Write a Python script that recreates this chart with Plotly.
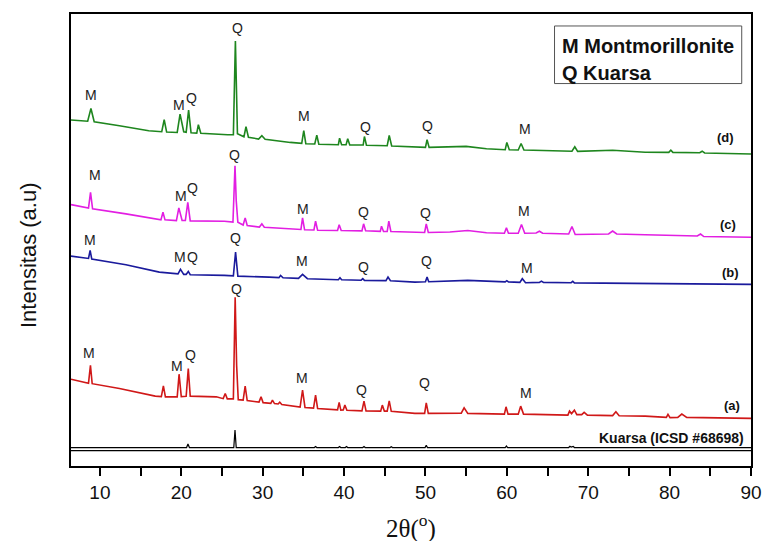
import plotly.graph_objects as go

# ---------------- data (2θ in degrees, intensity in a.u. incl. stacking offset) ----------------
d_x = [6.45, 8.5, 8.9, 9.3, 12.4, 16.0, 17.6, 17.9, 18.2, 19.5, 19.85, 20.3, 20.6, 20.9, 21.2, 21.9, 22.1, 22.4,
       25.7, 26.4, 26.65, 26.9, 27.7, 27.95, 28.25, 29.5, 29.9, 30.3, 33.4, 34.8, 35.05, 35.3, 36.4, 36.65, 36.9,
       39.3, 39.45, 39.7, 40.25, 40.45, 40.7, 42.35, 42.5, 42.75, 45.3, 45.55, 45.85, 48.7, 50.0, 50.2, 50.45,
       55.0, 57.5, 59.8, 60.0, 60.3, 61.4, 61.75, 62.1, 68.0, 68.35, 68.7, 73.0, 77.0, 79.9, 80.15, 80.4,
       83.7, 84.0, 84.3, 90.0]
d_y = [346.7, 345.5, 358.3, 345.0, 341.0, 336.0, 335.0, 347.0, 334.7, 334.3, 352.7, 335.0, 334.5, 356.7, 334.0, 333.7, 342.0, 333.5,
       332.0, 332.0, 426.0, 333.0, 330.0, 340.0, 329.5, 327.7, 331.0, 327.5, 324.3, 323.3, 336.0, 323.0, 322.7, 331.5, 322.5,
       322.0, 328.5, 322.0, 322.0, 328.0, 321.8, 321.7, 330.2, 321.5, 321.0, 331.2, 320.7, 319.3, 319.3, 327.0, 319.3,
       320.3, 318.0, 317.0, 324.3, 317.0, 316.7, 323.2, 316.7, 315.5, 320.0, 315.3, 316.5, 314.5, 314.3, 316.5, 314.3,
       314.0, 315.5, 313.7, 312.7]

c_x = [6.45, 8.6, 8.85, 9.1, 13.2, 16.8, 17.5, 17.75, 18.0, 19.4, 19.7, 20.1, 20.5, 20.8, 21.1, 25.3, 26.35, 26.6,
       26.75, 26.95, 27.6, 27.85, 28.1, 29.6, 29.9, 30.2, 33.8, 34.7, 34.9, 35.15, 36.3, 36.5, 36.75, 39.2, 39.4, 39.65,
       42.2, 42.4, 42.65, 44.45, 44.6, 44.85, 45.3, 45.5, 45.75, 49.9, 50.1, 50.35, 53.0, 55.2, 57.5, 59.7, 59.95, 60.2,
       61.4, 61.8, 62.2, 63.6, 64.0, 64.4, 67.6, 68.0, 68.4, 72.5, 73.0, 73.5, 77.0, 83.4, 83.8, 84.2, 90.0]
c_y = [262.0, 258.5, 274.3, 257.7, 252.7, 247.3, 246.7, 254.3, 246.7, 246.0, 258.7, 246.0, 246.0, 264.3, 245.7, 245.3, 244.5, 301.0,
       266.0, 244.3, 241.5, 248.7, 241.0, 239.5, 242.7, 239.3, 237.7, 237.0, 248.7, 236.7, 236.5, 245.3, 236.3, 236.0, 241.7, 236.0,
       235.7, 242.7, 235.7, 235.2, 240.3, 235.1, 235.0, 245.3, 235.0, 234.0, 242.7, 234.0, 234.5, 236.0, 233.7, 233.3, 238.7, 233.3,
       233.3, 242.0, 233.3, 233.5, 235.3, 233.3, 232.5, 240.0, 232.0, 232.5, 235.5, 232.5, 231.8, 230.5, 232.5, 230.0, 229.3]

b_x = [6.45, 8.6, 8.8, 9.0, 13.2, 17.3, 19.6, 19.9, 20.3, 20.6, 20.86, 21.1, 25.3, 26.4, 26.67, 26.95, 30.8, 32.0, 32.2, 32.5,
       34.4, 34.9, 35.5, 39.3, 39.5, 39.7, 42.1, 42.3, 42.5, 45.15, 45.4, 45.7, 48.7, 50.0, 50.2, 50.4, 55.2, 59.8, 60.0, 60.2,
       61.6, 61.9, 62.3, 64.0, 64.25, 64.5, 67.9, 68.1, 68.3, 72.9, 80.0, 90.0]
b_y = [210.3, 208.0, 216.0, 207.5, 201.7, 194.3, 192.5, 197.0, 192.0, 192.0, 195.0, 191.7, 191.0, 190.5, 214.3, 190.3, 189.3, 188.8, 191.0, 188.7,
       188.0, 192.0, 187.7, 186.7, 188.7, 186.7, 186.2, 187.7, 186.0, 185.8, 189.3, 185.7, 184.3, 184.7, 189.3, 184.7, 186.0, 184.5, 185.7, 184.5,
       184.0, 187.7, 183.7, 184.0, 185.3, 184.0, 183.7, 185.0, 183.5, 183.3, 182.5, 182.0]

a_x = [6.45, 8.6, 8.84, 9.05, 12.4, 16.8, 17.55, 17.8, 18.05, 19.5, 19.73, 20.0, 20.6, 20.86, 21.1, 24.3, 25.15, 25.4, 25.65,
       26.4, 26.62, 26.8, 27.0, 27.6, 27.85, 28.1, 29.55, 29.8, 30.05, 31.0, 31.2, 31.45, 31.9, 32.1, 32.35, 34.6, 34.9, 35.2,
       36.25, 36.5, 36.75, 39.2, 39.4, 39.6, 39.9, 40.1, 40.35, 42.2, 42.45, 42.7, 44.5, 44.7, 44.95, 45.3, 45.55, 45.8,
       48.7, 49.9, 50.1, 50.35, 54.4, 54.75, 55.2, 59.7, 59.9, 60.15, 61.4, 61.7, 62.05, 67.5, 67.7, 67.95, 68.3, 68.6,
       69.2, 69.5, 69.9, 73.0, 73.4, 73.8, 77.0, 79.6, 79.8, 80.05, 81.0, 81.5, 82.1, 90.0]
a_y = [87.0, 83.0, 101.0, 82.5, 77.7, 70.0, 69.5, 80.3, 69.3, 69.3, 92.0, 69.5, 69.8, 97.7, 70.0, 69.3, 67.5, 72.7, 67.3,
       67.3, 169.0, 101.0, 66.5, 66.0, 80.0, 65.5, 64.0, 69.3, 63.5, 62.8, 66.0, 62.6, 62.2, 64.0, 61.7, 59.0, 76.0, 58.7,
       58.0, 71.0, 57.7, 56.2, 63.7, 56.0, 56.2, 61.0, 55.8, 55.3, 65.0, 55.2, 55.0, 61.0, 55.0, 55.0, 65.3, 54.8,
       52.7, 52.7, 63.3, 52.7, 53.0, 58.3, 52.7, 52.0, 59.3, 52.0, 52.0, 60.0, 52.0, 51.0, 55.0, 52.5, 56.0, 51.5,
       51.5, 53.7, 51.0, 50.5, 54.3, 50.3, 50.0, 48.7, 51.7, 48.5, 48.7, 52.0, 48.7, 47.7]

k_x = [6.45, 20.65, 20.82, 21.0, 26.45, 26.6, 26.75, 36.35, 36.5, 36.65, 39.3, 39.45, 39.6, 40.15, 40.3, 40.45,
       42.3, 42.45, 42.6, 45.65, 45.8, 45.95, 49.95, 50.1, 50.25, 54.7, 54.85, 55.0, 59.8, 59.95, 60.1,
       67.6, 67.75, 67.9, 68.15, 68.3, 90.0]
k_y = [18.5, 18.5, 22.0, 18.5, 18.5, 36.0, 18.5, 18.5, 19.5, 18.5, 18.5, 19.5, 18.5, 18.5, 19.5, 18.5,
       18.5, 19.5, 18.5, 18.5, 19.3, 18.5, 18.5, 20.7, 18.5, 18.5, 19.2, 18.5, 18.5, 20.0, 18.5,
       18.5, 19.7, 19.0, 19.7, 18.5, 18.5]
base_line_y = 15.5

# phase labels above peaks
lab_text = ["M", "M", "Q", "Q", "M", "Q", "Q", "M",
            "M", "M", "Q", "Q", "M", "Q", "Q", "M",
            "M", "M", "Q", "Q", "M", "Q", "Q", "M",
            "M", "M", "Q", "Q", "M", "Q", "Q", "M"]
lab_x = [8.96, 19.75, 21.3, 26.95, 35.06, 42.64, 50.2, 62.22,
         9.36, 19.95, 21.35, 26.55, 34.9, 42.44, 50.0, 62.14,
         8.75, 19.8, 21.35, 26.7, 34.87, 42.44, 50.19, 62.42,
         8.67, 19.49, 21.14, 26.79, 34.87, 42.16, 49.92, 62.35]
lab_y = [372.0, 361.7, 368.7, 438.7, 351.0, 340.0, 341.0, 337.7,
         291.7, 270.7, 278.7, 312.0, 257.7, 254.3, 253.3, 256.0,
         227.0, 209.3, 209.3, 228.7, 205.0, 199.3, 205.0, 198.7,
         113.3, 100.3, 111.7, 177.3, 88.3, 76.0, 82.7, 72.7]

series_names = ["(d)", "(c)", "(b)", "(a)", "Kuarsa (ICSD #68698)"]
series_colors = ["#1e861e", "#e21ee2", "#1a1a9c", "#d01818", "#000000"]
series_x = [d_x, c_x, b_x, a_x, k_x]
series_y = [d_y, c_y, b_y, a_y, k_y]
name_x = [86.84, 87.2, 87.44, 87.65, 80.18]
name_y = [329.3, 241.7, 194.3, 61.0, 27.7]

legend_lines = ["M Montmorillonite", "Q Kuarsa"]

x_range = [6.45, 90]
y_range = [0, 453]

# ---------------- figure ----------------
FONT = "Liberation Sans, Arial, sans-serif"
fig = go.Figure()
for xs, ys, col, nm in zip(series_x, series_y, series_colors, series_names):
    fig.add_trace(go.Scatter(x=xs, y=ys, mode="lines", name=nm,
                             line=dict(color=col, width=1.6 if col != "#000000" else 1.2),
                             showlegend=False, hoverinfo="skip"))

fig.add_shape(type="line", xref="x", yref="y", x0=x_range[0], x1=x_range[1],
              y0=base_line_y, y1=base_line_y, line=dict(color="black", width=1.2))

for t, x, y in zip(lab_text, lab_x, lab_y):
    fig.add_annotation(x=x, y=y, text=t, showarrow=False, xref="x", yref="y",
                       font=dict(family=FONT, size=14, color="#222"))

for nm, x, y in zip(series_names, name_x, name_y):
    fig.add_annotation(x=x, y=y, text="<b>" + nm + "</b>", showarrow=False, xref="x", yref="y",
                       font=dict(family=FONT, size=14 if len(nm) > 4 else 13, color="#111"))

# legend box
fig.add_shape(type="rect", xref="x", yref="y", x0=65.86, x1=88.86, y0=383.3, y1=441.0,
              line=dict(color="#555", width=1), fillcolor="white")
fig.add_annotation(x=66.5, y=421.0, text="<b>" + legend_lines[0] + "</b>", showarrow=False,
                   xref="x", yref="y", xanchor="left", font=dict(family=FONT, size=20, color="#111"))
fig.add_annotation(x=66.5, y=394.0, text="<b>" + legend_lines[1] + "</b>", showarrow=False,
                   xref="x", yref="y", xanchor="left", font=dict(family=FONT, size=20, color="#111"))

# axis titles
fig.add_annotation(x=-0.0623, y=0.466, xref="paper", yref="paper", xanchor="center", yanchor="middle",
                   text="Intensitas (a.u)", textangle=-90, showarrow=False,
                   font=dict(family=FONT, size=22, color="#111"))
fig.add_annotation(x=0.5, y=-61 / 453, xref="paper", yref="paper", xanchor="center", yanchor="middle",
                   text="2θ(<sup>o</sup>)", showarrow=False,
                   font=dict(family="Liberation Serif, Times New Roman, serif", size=25, color="#111"))

fig.update_xaxes(range=x_range, tickvals=[10, 20, 30, 40, 50, 60, 70, 80, 90],
                 ticks="outside", ticklen=8, tickwidth=1.5, tickcolor="black",
                 minor=dict(tickvals=[15, 25, 35, 45, 55, 65, 75, 85], ticks="outside",
                            ticklen=8, tickwidth=1.5, tickcolor="black"),
                 showline=True, linecolor="black", linewidth=2, mirror=True,
                 showgrid=False, zeroline=False,
                 tickfont=dict(family=FONT, size=19, color="#111"))
fig.update_yaxes(range=y_range, showticklabels=False, ticks="",
                 showline=True, linecolor="black", linewidth=2, mirror=True,
                 showgrid=False, zeroline=False)

fig.update_layout(width=774, height=541, margin=dict(l=71, r=13, t=13, b=75),
                  plot_bgcolor="white", paper_bgcolor="white", showlegend=False)

clip_js = (
    "var gd=document.getElementById('{plot_id}');"
    "document.documentElement.style.cssText='margin:0;padding:0;overflow:hidden;width:774px;height:541px';"
    "document.body.style.cssText='margin:0;padding:0;overflow:hidden;width:774px;height:541px';"
    "if(gd&&gd.parentElement){gd.parentElement.style.cssText='overflow:hidden;width:774px;height:541px;margin:0;padding:0';}"
)
fig.write_html("out.html", config={"displayModeBar": False}, post_script=clip_js)
